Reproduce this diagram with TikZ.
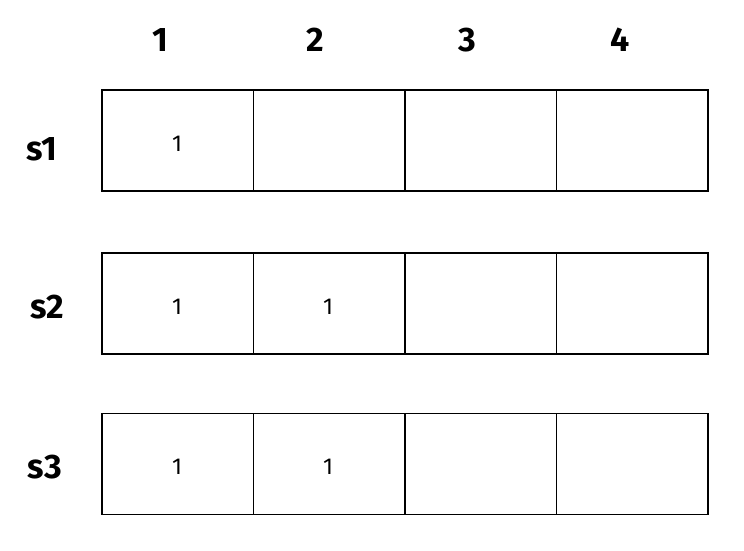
\documentclass[tikz,border=0pt]{standalone}
\usepackage{fontspec}
\setmainfont{Fira Sans}
\begin{document}
\begin{tikzpicture}[x=1pt,y=-1pt,
  cell/.style={draw=black,line width=1.2pt,minimum width=151.5pt,minimum height=101pt,inner sep=0pt,outer sep=0pt},
  head/.style={font=\fontsize{34}{36}\selectfont\bfseries},
  rowlab/.style={font=\fontsize{34}{36}\selectfont\bfseries},
  val/.style={font=\fontsize{23}{25}\selectfont}]
\useasboundingbox (0,0) rectangle (744,550);
\foreach \r/\y in {1/140.5,2/303.5,3/464}{
  \foreach \c/\x in {1/177.75,2/329.25,3/480.75,4/632.25}{
    \node[cell] (c\r\c) at (\x,\y) {};
  }
}
\node[head] (h1) at (160,40) {1};
\node[head] (h2) at (315,40) {2};
\node[head] (h3) at (467,40) {3};
\node[head] (h4) at (620,40) {4};
\node[rowlab] (s1) at (42,149) {s1};
\node[rowlab] (s2) at (47,307) {s2};
\node[rowlab] (s3) at (45,467) {s3};
\node[val] (v11) at (177,144) {1};
\node[val] (v21) at (177,307) {1};
\node[val] (v22) at (328,307) {1};
\node[val] (v31) at (177,467) {1};
\node[val] (v32) at (328,467) {1};
\end{tikzpicture}
\end{document}
